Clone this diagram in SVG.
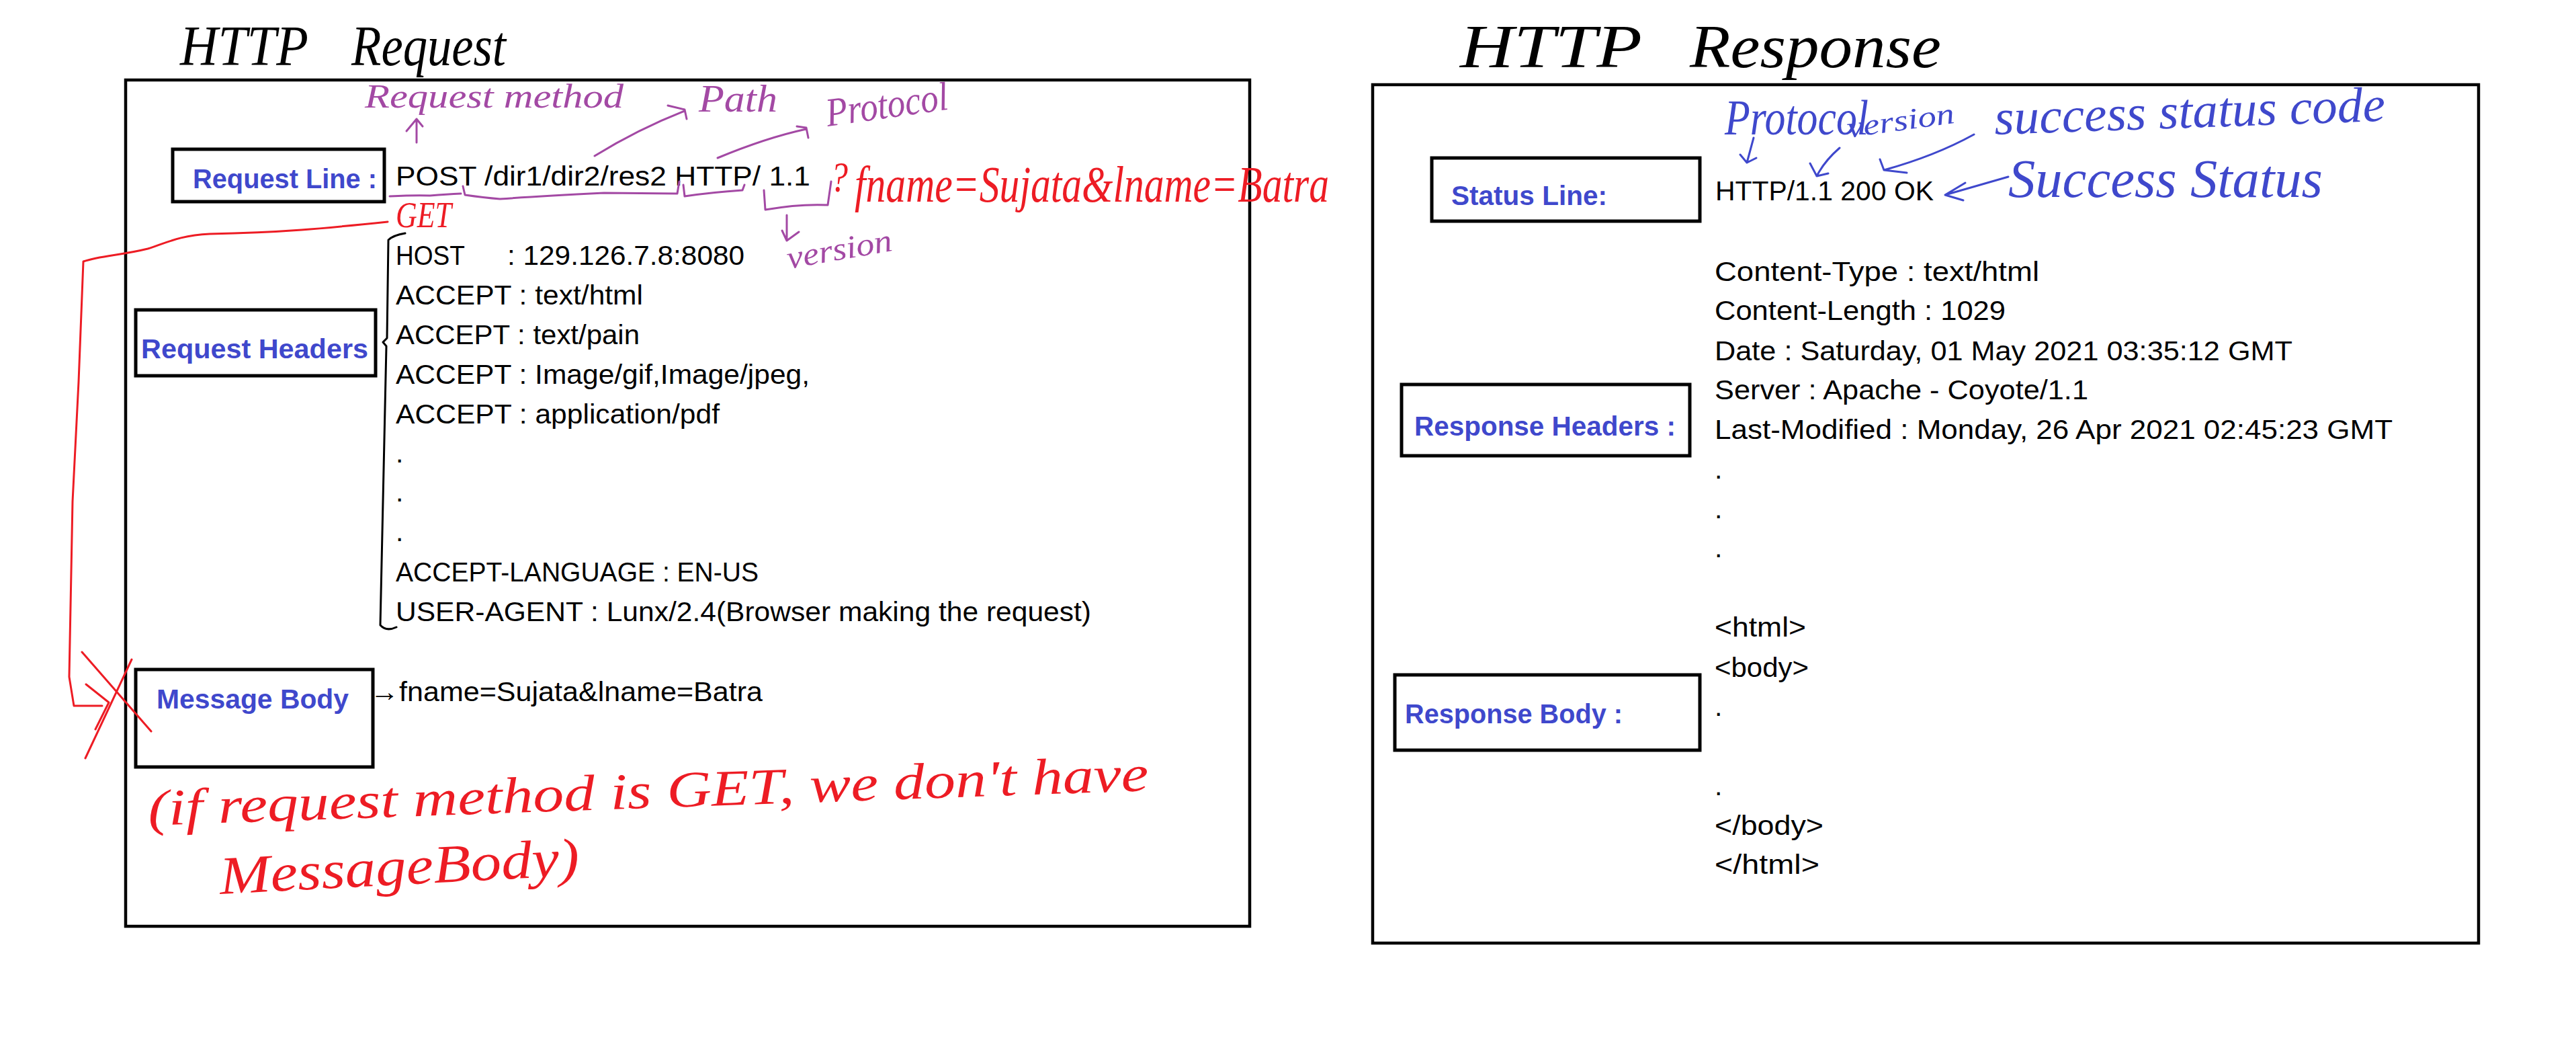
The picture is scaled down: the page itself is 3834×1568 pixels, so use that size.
<svg xmlns="http://www.w3.org/2000/svg" width="3834" height="1568" viewBox="0 0 3834 1568">
<style>
.frame{fill:none;stroke:#000;stroke-width:4.5}
.box{fill:#fff;stroke:#000;stroke-width:5}
.lbl{font-family:"Liberation Sans",Arial,sans-serif;font-weight:bold;font-size:40px;fill:#3F48CC}
.t{font-family:"Liberation Sans",Arial,sans-serif;font-size:41px;fill:#000}
.hw{font-family:"Liberation Serif","DejaVu Serif",serif;font-style:italic}
.hk{fill:#000}
.hp{fill:#A349A4}
.hr{fill:#ED1C24}
.hb{fill:#3F48CC}
.pp{fill:none;stroke:#A349A4;stroke-width:3;stroke-linecap:round;stroke-linejoin:round}
.pr{fill:none;stroke:#ED1C24;stroke-width:3;stroke-linecap:round;stroke-linejoin:round}
.pb{fill:none;stroke:#3F48CC;stroke-width:3;stroke-linecap:round;stroke-linejoin:round}
.pk{fill:none;stroke:#000;stroke-width:3;stroke-linecap:round;stroke-linejoin:round}
</style>
<rect x="0" y="0" width="3834" height="1568" fill="#fff"/>

<!-- ===== HTTP Request ===== -->
<g id="request-title">
<text class="hw hk" x="268" y="97" font-size="84" textLength="191" lengthAdjust="spacingAndGlyphs">HTTP</text>
<text class="hw hk" x="523" y="97" font-size="84" textLength="230" lengthAdjust="spacingAndGlyphs">Request</text>
</g>
<g id="request-frame"><rect class="frame" x="187" y="119" width="1673" height="1259"/></g>

<g id="request-line">
<rect class="box" x="257" y="222" width="315" height="78"/>
<text class="lbl" x="287" y="280" textLength="274" lengthAdjust="spacingAndGlyphs">Request Line :</text>
</g>
<g id="request-line-value">
<text class="t" x="589" y="276" textLength="617" lengthAdjust="spacingAndGlyphs">POST /dir1/dir2/res2 HTTP/ 1.1</text>
</g>

<g id="request-headers">
<rect class="box" x="202" y="461" width="357" height="98"/>
<text class="lbl" x="210" y="533" textLength="338" lengthAdjust="spacingAndGlyphs">Request Headers</text>
</g>
<g id="request-headers-values">
<text class="t" x="589" y="394" textLength="103" lengthAdjust="spacingAndGlyphs">HOST</text>
<text class="t" x="755" y="394" textLength="353" lengthAdjust="spacingAndGlyphs">: 129.126.7.8:8080</text>
<text class="t" x="589" y="453" textLength="368" lengthAdjust="spacingAndGlyphs">ACCEPT : text/html</text>
<text class="t" x="589" y="512" textLength="363" lengthAdjust="spacingAndGlyphs">ACCEPT : text/pain</text>
<text class="t" x="589" y="571" textLength="616" lengthAdjust="spacingAndGlyphs">ACCEPT : Image/gif,Image/jpeg,</text>
<text class="t" x="589" y="630" textLength="482" lengthAdjust="spacingAndGlyphs">ACCEPT : application/pdf</text>
<text class="t" x="589" y="688">.</text>
<text class="t" x="589" y="746">.</text>
<text class="t" x="589" y="805">.</text>
<text class="t" x="589" y="865" textLength="540" lengthAdjust="spacingAndGlyphs">ACCEPT-LANGUAGE : EN-US</text>
<text class="t" x="589" y="924" textLength="1035" lengthAdjust="spacingAndGlyphs">USER-AGENT : Lunx/2.4(Browser making the request)</text>
</g>

<g id="message-body">
<rect class="box" x="202" y="996" width="353" height="145"/>
<text class="lbl" x="233" y="1054" textLength="286" lengthAdjust="spacingAndGlyphs">Message Body</text>
</g>
<g id="message-body-value">
<text class="t" x="551" y="1043" textLength="584" lengthAdjust="spacingAndGlyphs">→fname=Sujata&amp;lname=Batra</text>
</g>

<g id="request-annotations">
<text class="hw hp" x="543" y="160" font-size="50" textLength="385" lengthAdjust="spacingAndGlyphs">Request method</text>
<text class="hw hp" x="1040" y="166" font-size="58" textLength="117" lengthAdjust="spacingAndGlyphs">Path</text>
<text class="hw hp" x="1232" y="188" font-size="60" textLength="183" lengthAdjust="spacingAndGlyphs" transform="rotate(-8 1232 188)">Protocol</text>
<text class="hw hp" x="1174" y="400" font-size="48" textLength="158" lengthAdjust="spacingAndGlyphs" transform="rotate(-10 1174 400)">version</text>
<text class="hw hr" x="589" y="338" font-size="54" textLength="83" lengthAdjust="spacingAndGlyphs">GET</text>
<text class="hw hr" x="1236" y="285" font-size="64" textLength="26" lengthAdjust="spacingAndGlyphs">?</text>
<text class="hw hr" x="1272" y="300" font-size="76" textLength="706" lengthAdjust="spacingAndGlyphs">fname=Sujata&amp;lname=Batra</text>
<text class="hw hr" x="221" y="1228" font-size="76" textLength="1490" lengthAdjust="spacingAndGlyphs" transform="rotate(-2 221 1228)">(if request method is GET, we don't have</text>
<text class="hw hr" x="328" y="1330" font-size="80" textLength="536" lengthAdjust="spacingAndGlyphs" transform="rotate(-3 328 1330)">MessageBody)</text>
</g>

<!-- ===== HTTP Response ===== -->
<g id="response-title">
<text class="hw hk" x="2173" y="100" font-size="92" textLength="271" lengthAdjust="spacingAndGlyphs">HTTP</text>
<text class="hw hk" x="2515" y="100" font-size="92" textLength="374" lengthAdjust="spacingAndGlyphs">Response</text>
</g>
<g id="response-frame"><rect class="frame" x="2043" y="126" width="1646" height="1277"/></g>

<g id="status-line">
<rect class="box" x="2131" y="235" width="399" height="94"/>
<text class="lbl" x="2160" y="305" textLength="232" lengthAdjust="spacingAndGlyphs">Status Line:</text>
</g>
<g id="status-line-value">
<text class="t" x="2553" y="298" textLength="325" lengthAdjust="spacingAndGlyphs">HTTP/1.1 200 OK</text>
</g>

<g id="response-headers">
<rect class="box" x="2086" y="572" width="429" height="106"/>
<text class="lbl" x="2105" y="648" textLength="389" lengthAdjust="spacingAndGlyphs">Response Headers :</text>
</g>
<g id="response-headers-values">
<text class="t" x="2552" y="418" textLength="483" lengthAdjust="spacingAndGlyphs">Content-Type : text/html</text>
<text class="t" x="2552" y="476" textLength="433" lengthAdjust="spacingAndGlyphs">Content-Length : 1029</text>
<text class="t" x="2552" y="536" textLength="860" lengthAdjust="spacingAndGlyphs">Date : Saturday, 01 May 2021 03:35:12 GMT</text>
<text class="t" x="2552" y="594" textLength="556" lengthAdjust="spacingAndGlyphs">Server : Apache - Coyote/1.1</text>
<text class="t" x="2552" y="653" textLength="1009" lengthAdjust="spacingAndGlyphs">Last-Modified : Monday, 26 Apr 2021 02:45:23 GMT</text>
<text class="t" x="2552" y="712">.</text>
<text class="t" x="2552" y="771">.</text>
<text class="t" x="2552" y="829">.</text>
</g>

<g id="response-body">
<rect class="box" x="2076" y="1004" width="454" height="112"/>
<text class="lbl" x="2091" y="1076" textLength="324" lengthAdjust="spacingAndGlyphs">Response Body :</text>
</g>
<g id="response-body-values">
<text class="t" x="2552" y="947" textLength="136" lengthAdjust="spacingAndGlyphs">&lt;html&gt;</text>
<text class="t" x="2552" y="1007" textLength="140" lengthAdjust="spacingAndGlyphs">&lt;body&gt;</text>
<text class="t" x="2552" y="1065">.</text>
<text class="t" x="2552" y="1183">.</text>
<text class="t" x="2552" y="1242" textLength="162" lengthAdjust="spacingAndGlyphs">&lt;/body&gt;</text>
<text class="t" x="2552" y="1300" textLength="156" lengthAdjust="spacingAndGlyphs">&lt;/html&gt;</text>
</g>

<g id="response-annotations">
<text class="hw hb" x="2567" y="200" font-size="74" textLength="214" lengthAdjust="spacingAndGlyphs">Protocol</text>
<text class="hw hb" x="2751" y="205" font-size="44" textLength="161" lengthAdjust="spacingAndGlyphs" transform="rotate(-8 2751 205)">version</text>
<text class="hw hb" x="2969" y="200" font-size="74" textLength="582" lengthAdjust="spacingAndGlyphs" transform="rotate(-2 2969 200)">success status code</text>
<text class="hw hb" x="2989" y="293" font-size="80" textLength="468" lengthAdjust="spacingAndGlyphs">Success Status</text>
</g>

<!-- ===== connectors / hand-drawn marks ===== -->
<g id="connectors">
<path class="pp" d="M620 212 L620 177 M605 195 L620 177 L629 188"/>
<path class="pp" d="M885 232 Q950 192 1019 165 M994 157 L1019 163 L1022 177"/>
<path class="pp" d="M1068 235 Q1140 205 1200 192 M1186 188 L1200 190 L1203 205"/>
<path class="pp" d="M580 292 Q620 290 640 291 Q665 289 686 288"/>
<path class="pp" d="M689 277 L692 290 Q720 294 744 296 Q800 292 899 287 L1008 288 L1011 270"/>
<path class="pp" d="M1017 275 L1019 292 Q1060 286 1105 283 L1108 275"/>
<path class="pp" d="M1137 283 L1139 312 Q1190 303 1232 305 L1237 270"/>
<path class="pp" d="M1171 320 L1171 358 M1164 343 L1171 358 L1189 345"/>
<path class="pr" d="M577 330 C 480 340, 420 346, 312 348 C 270 350, 250 360, 220 370 C 180 380, 150 380, 124 389 L117 568 L108 746 L103 1007 L110 1050 L152 1050 M128 1018 L162 1045 L142 1085"/>
<path class="pr" d="M122 970 L225 1088 M196 981 L127 1128"/>
<path class="pk" d="M603 347 Q585 350 578 357 L576 503 L570 509 L575 515 L566 930 Q575 940 590 933"/>
<path class="pb" d="M2610 205 L2600 242 M2590 230 L2600 242 L2614 235"/>
<path class="pb" d="M2738 220 Q2715 240 2704 262 M2694 243 L2704 262 L2721 258"/>
<path class="pb" d="M2938 200 Q2880 232 2804 253 M2798 237 L2804 253 L2838 257"/>
<path class="pb" d="M2989 263 L2895 290 M2925 272 L2895 290 L2922 298"/>
</g>
</svg>
